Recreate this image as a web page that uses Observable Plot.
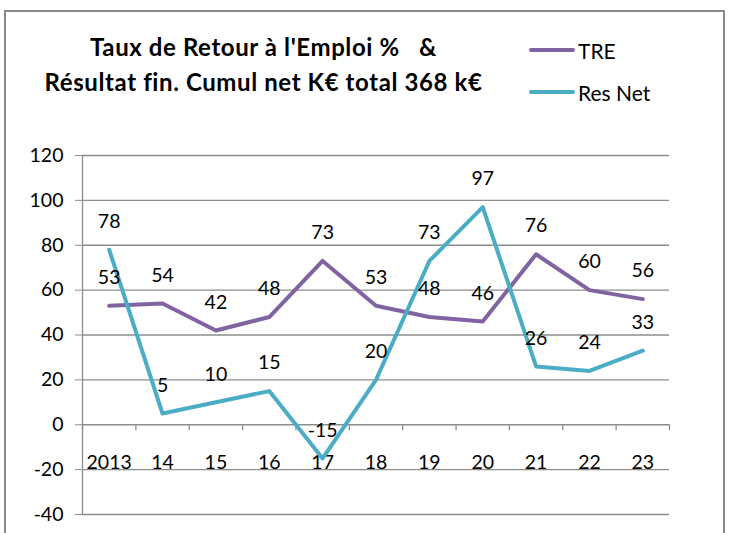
<!DOCTYPE html>
<html><head><meta charset="utf-8">
<script src="https://cdn.jsdelivr.net/npm/d3@7"></script>
<script src="https://cdn.jsdelivr.net/npm/@observablehq/plot@0.6"></script>
<style>
body{margin:0;background:#fff;}
#wrap{position:relative;width:735px;height:533px;overflow:hidden;font-family:Lato,sans-serif;background:#fff}
#border{position:absolute;left:4px;top:10px;width:721px;height:560px;border:2px solid #8a8a8a;box-sizing:border-box}
#title{position:absolute;left:0;width:527px;top:29px;text-align:center;font-weight:bold;font-size:24px;letter-spacing:0.6px;line-height:35px;color:#000;white-space:pre}
.leg{position:absolute;left:529px;font-size:21px;display:flex;align-items:center;height:22px;color:#000}
.leg .sw{display:inline-block;width:46px;height:4px;margin-right:3px;border-radius:2px}
#plot{position:absolute;left:0;top:0}
</style></head>
<body>
<div id="wrap">
<div id="border"></div>
<div id="plot"></div>
<div id="title">Taux de Retour à l'Emploi %   &amp;
Résultat fin. Cumul net K€ total 368 k€</div>
<div class="leg" style="top:39px"><span class="sw" style="background:#8064A2"></span>TRE</div>
<div class="leg" style="top:81px"><span class="sw" style="background:#4BACC6"></span>Res Net</div>
</div>
<script>
const years = ["2013","14","15","16","17","18","19","20","21","22","23"];
const tre = [53,54,42,48,73,53,48,46,76,60,56];
const resNet = [78,5,10,15,-15,20,73,97,26,24,33];
const yTicks = [-40,-20,0,20,40,60,80,100,120];

const treRows = years.map((y,i)=>({i, year:y, v:tre[i]}));
const resRows = years.map((y,i)=>({i, year:y, v:resNet[i]}));
const xDomain = [-0.5, years.length - 0.5];
const boundaries = d3.range(years.length + 1).map(k => k - 0.5);
const grid = "#8c8c8c";
const fs = 19.5;

const chart = Plot.plot({
  width: 735, height: 533,
  marginLeft: 82, marginRight: 66, marginTop: 155, marginBottom: 19,
  x: {type: "linear", domain: xDomain, axis: null},
  y: {domain: [-40, 120], axis: null},
  style: {fontFamily: "Lato, sans-serif", fontSize: fs + "px", background: "transparent", color: "#000"},
  marks: [
    Plot.ruleY(yTicks, {stroke: grid, strokeWidth: 1.3}),
    Plot.axisY({ticks: yTicks, tickSize: 7, tickPadding: 12, stroke: grid, fill: "#000", fontSize: fs, label: null, tickFormat: d => String(d)}),
    Plot.ruleX([xDomain[0]], {stroke: grid, strokeWidth: 1.3}),
    Plot.ruleX(boundaries, {x: d => d, y1: 0, y2: 0, insetBottom: -6, stroke: grid, strokeWidth: 1.3}),
    Plot.text(years, {x: (d, i) => i, y: 0, dy: 38, text: d => d, fill: "#000", fontSize: fs}),
    Plot.line(treRows, {x: "i", y: "v", stroke: "#8064A2", strokeWidth: 4}),
    Plot.line(resRows, {x: "i", y: "v", stroke: "#4BACC6", strokeWidth: 4}),
    Plot.text(treRows, {x: "i", y: "v", text: d => String(d.v), dy: -28, fill: "#000", fontSize: fs}),
    Plot.text(resRows, {x: "i", y: "v", text: d => String(d.v), dy: -28, fill: "#000", fontSize: fs})
  ]
});
document.getElementById("plot").appendChild(chart);
</script>
</body></html>
